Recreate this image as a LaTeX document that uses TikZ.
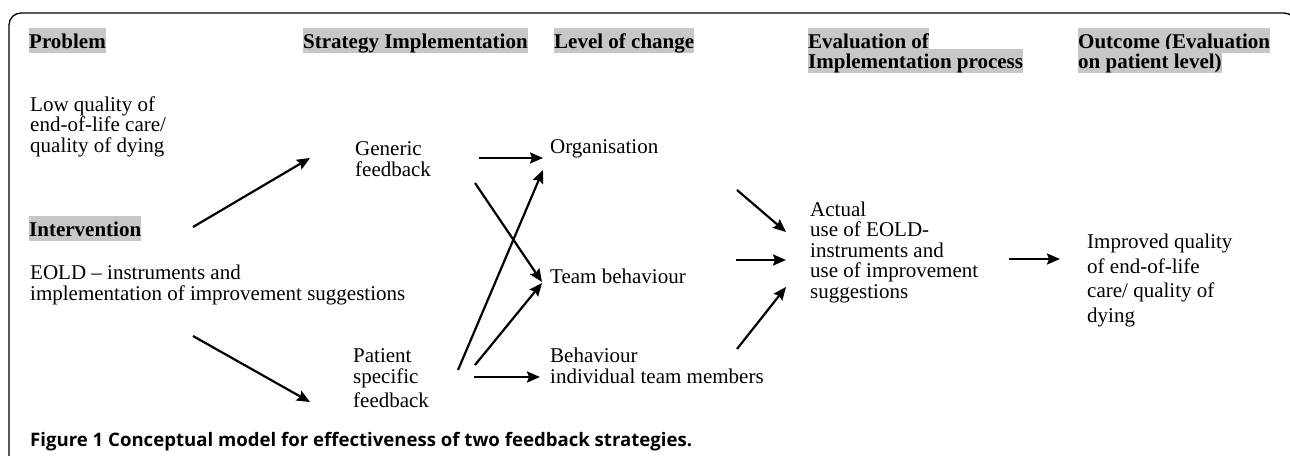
\documentclass[tikz,border=0pt]{standalone}
\usepackage{fontspec}
\setmainfont{Liberation Serif}
\newfontfamily\capfont{Open Sans}
\usetikzlibrary{arrows.meta}
\tikzset{
  hdr/.style={fill=black!22,inner sep=0pt,anchor=base west,text height=19.7pt,text depth=4.7pt,
    font=\fontsize{21}{20.5}\selectfont\bfseries},
  txt/.style={inner sep=0pt,anchor=base west,align=left,font=\fontsize{21}{20.5}\selectfont},
  arr/.style={->,line width=2.2pt},
}
\begin{document}
\begin{tikzpicture}[x=1pt,y=-1pt,>={Stealth[length=13pt,width=11pt,inset=2pt]}]
                \useasboundingbox (0,0) rectangle (1290,455);
                \draw[line width=1.3pt,rounded corners=12pt](9,470)--(9,13)--(1296,13)--(1296,470);
                % column heads
                \node[hdr] (hprob) at (29,48){Problem};
                \node[hdr] (hstrat) at (303,48){Strategy Implementation};
                \node[hdr] (hlevel) at (554,48){Level of change};
                \node[hdr] (heval) at (808,48){Evaluation of\ };
                \node[hdr] (hevalb) at (808,68.5){Implementation process};
                \node[hdr] (hout) at (1078,48){Outcome (Evaluation};
                \node[hdr] (houtb) at (1078,68.5){on patient level)};
                \node[hdr] (hint) at (29,236){Intervention};
                % texts (base = last line)
                \node[txt] (prob) at (30,152){Low quality of\\end-of-life care/\\quality of dying};
                \node[txt] (eold) at (30,300){EOLD – instruments and\\implementation of improvement suggestions};
                \node[txt] (gen) at (355,176){Generic\\feedback};
                \node[txt] (pat) at (353,407){Patient\\specific\\[3.5pt]feedback};
                \node[txt] (org) at (550,153){Organisation};
                \node[txt] (team) at (550,283){Team behaviour};
                \node[txt] (beh) at (550,383){Behaviour\\individual team members};
                \node[txt] (act) at (810,298){Actual\\use of EOLD-\\instruments and\\use of improvement\\suggestions};
                \node[txt,font=\fontsize{21}{24.5}\selectfont] (impr) at (1087,322){Improved quality\\of end-of-life\\care/ quality of\\dying};
                \node[inner sep=0pt,anchor=base west,font=\fontsize{18.6}{20}\selectfont\capfont\bfseries] (cap) at (30,446)
                    {Figure 1 Conceptual model for effectiveness of two feedback strategies.};
                % arrow ends
                \coordinate (intA) at (193,227); \coordinate (genIn) at (310,158);
                \coordinate (intB) at (193,336); \coordinate (patIn) at (310,402);
                \coordinate (genA) at (479,158); \coordinate (orgA) at (543,158);
                \coordinate (genB) at (475,183); \coordinate (teamA) at (542,282);
                \coordinate (patA) at (458,370); \coordinate (orgB) at (543,170);
                \coordinate (patB) at (475,365); \coordinate (teamB) at (542,283);
                \coordinate (patC) at (474,377); \coordinate (behA) at (540,377);
                \coordinate (orgOut) at (737,190); \coordinate (actA) at (786,232);
                \coordinate (teamOut) at (736,260); \coordinate (actB) at (786,260);
                \coordinate (behOut) at (737,349); \coordinate (actC) at (786,287);
                \coordinate (actOut) at (1009,259); \coordinate (imprIn) at (1060,259);
                \foreach \s/\e in {intA/genIn,intB/patIn,genA/orgA,genB/teamA,patA/orgB,patB/teamB,
                    patC/behA,orgOut/actA,teamOut/actB,behOut/actC,actOut/imprIn}
                    \draw[arr](\s)--(\e);
            \end{tikzpicture}
\end{document}
